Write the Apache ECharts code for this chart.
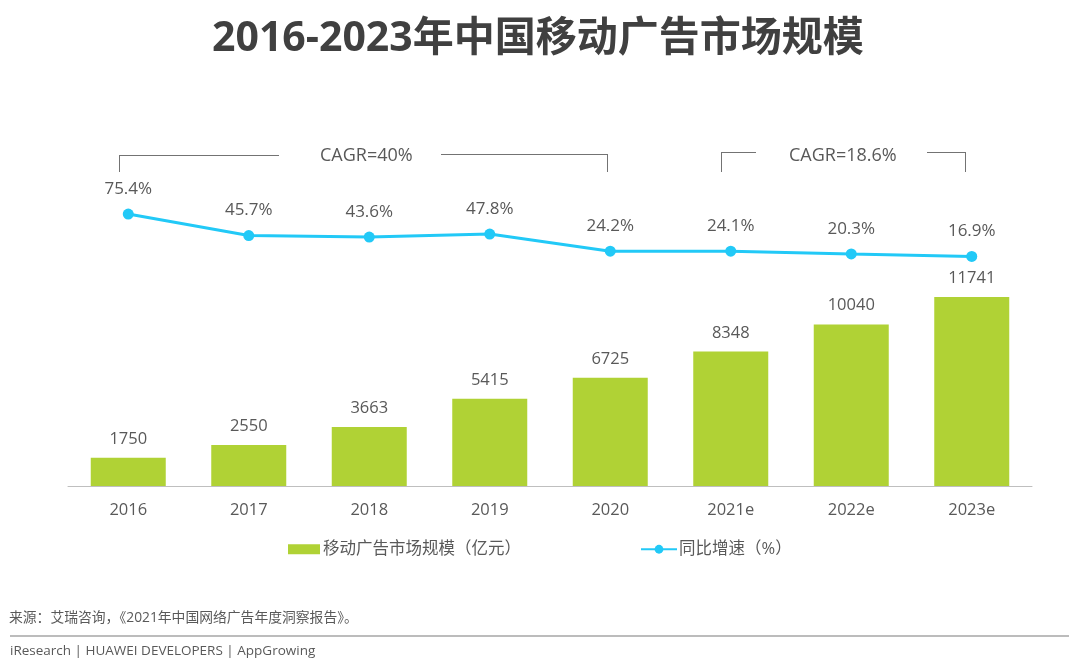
<!DOCTYPE html>
<html><head><meta charset="utf-8">
<style>html,body{margin:0;padding:0;background:#fff}#c{width:1080px;height:671px}</style>
<script src="https://cdn.jsdelivr.net/npm/echarts@6/dist/echarts.min.js"></script></head>
<body><div id="c"></div>
<script>
const categories=['2016','2017','2018','2019','2020','2021e','2022e','2023e'];
const marketSize=[1750,2550,3663,5415,6725,8348,10040,11741];
const growthRate=[75.4,45.7,43.6,47.8,24.2,24.1,20.3,16.9];
const barName='移动广告市场规模（亿元）';
const lineName='同比增速（%）';
const F='"Open Sans","Noto Sans CJK SC",sans-serif';
const TXT='#595959', CYAN='#22c9f7', GREEN='#b0d235';
const c=echarts.init(document.getElementById('c'));
const T=(x,y,text,fs,fill)=>({type:'text',left:x,top:y,style:{text,font:`${fs}px ${F}`,fill}});
const L=(x1,y1,x2,y2,col,w)=>({type:'line',shape:{x1,y1,x2,y2},style:{stroke:col||'#737373',lineWidth:w||1}});
c.setOption({
 animation:false,
 title:{text:'2016-2023年中国移动广告市场规模',left:212,top:19,padding:0,textStyle:{fontFamily:F,fontSize:41,fontWeight:'bold',color:'#404040'}},
 grid:[{left:68,right:48,top:297,height:189},{left:68,right:48,top:196.2,height:72.5}],
 legend:[
  {top:541,left:288,padding:0,itemWidth:32,itemHeight:10,textStyle:{fontFamily:F,fontSize:16.5,color:TXT,padding:[0,0,0,-2]},data:[{name:barName,icon:'rect'}]},
  {top:541,left:640,padding:0,itemWidth:36,itemHeight:11,textStyle:{fontFamily:F,fontSize:16.5,color:TXT,padding:[0,0,0,-3]},data:[{name:lineName}]}
 ],
 xAxis:[{type:'category',data:categories,gridIndex:0,axisTick:{show:false},axisLine:{lineStyle:{color:'#bfbfbf'}},axisLabel:{fontFamily:F,fontSize:16.5,color:TXT,margin:16}},
        {type:'category',data:categories,gridIndex:1,show:false}],
 yAxis:[{type:'value',gridIndex:0,min:0,max:11741,show:false},{type:'value',gridIndex:1,min:0,max:100,show:false}],
 series:[
  {name:barName,type:'bar',data:marketSize,xAxisIndex:0,yAxisIndex:0,barWidth:75,itemStyle:{color:GREEN},
   label:{show:true,position:'top',distance:10.5,fontFamily:F,fontSize:16.5,color:TXT}},
  {name:lineName,type:'line',data:growthRate,xAxisIndex:1,yAxisIndex:1,symbol:'circle',symbolSize:11,lineStyle:{color:CYAN,width:3},itemStyle:{color:CYAN},
   label:{show:true,position:'top',distance:11,fontFamily:F,fontSize:17,color:TXT,formatter:p=>p.value+'%'}}
 ],
 graphic:[
  L(119,155.5,279,155.5),L(119.5,155,119.5,172),L(441,154.5,607,154.5),L(607.5,154,607.5,172),
  L(721,152.5,756,152.5),L(721.5,152,721.5,172),L(927,152.5,966,152.5),L(965.5,152,965.5,172),
  T(320,147,'CAGR=40%',18,TXT),T(789,147,'CAGR=18.6%',18,TXT),
  T(9,611,'来源：艾瑞咨询，《2021年中国网络广告年度洞察报告》。',13.8,TXT),
  L(10,636,1069,636,'#a6a6a6',1.5),
  T(10,644,'iResearch | HUAWEI DEVELOPERS | AppGrowing',13.5,TXT)
 ]
});
</script></body></html>
